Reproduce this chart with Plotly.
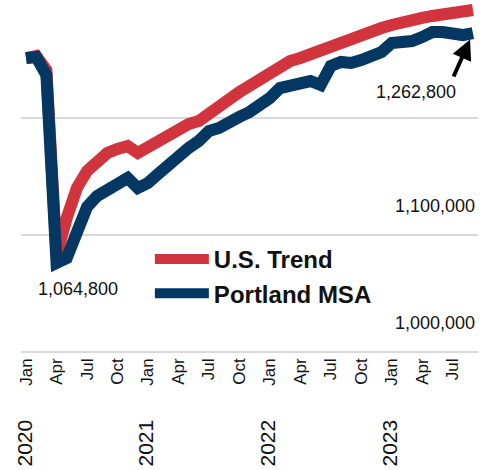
import plotly.graph_objects as go

# Monthly categories Jan 2020 .. Sep 2023
month_names = ["Jan", "Feb", "Mar", "Apr", "May", "Jun", "Jul", "Aug", "Sep", "Oct", "Nov", "Dec"]
months = [f"{m} {y}" for y in range(2020, 2024) for m in month_names][:45]

us_trend = [1251000, 1253000, 1241000, 1082900, 1114500, 1140200, 1154700, 1164100, 1170100,
            1173500, 1176100, 1170100, 1175200, 1180300, 1185500, 1188900, 1194900, 1197400,
            1204300, 1210300, 1216200, 1222200, 1227400, 1233300, 1239300, 1245300, 1248700,
            1251300, 1254700, 1258100, 1262400, 1265000, 1268400, 1270900, 1274400, 1276900,
            1279500, 1282100, 1283800, 1285500, 1287200, 1288000, 1288900, 1290600, 1292300]

portland = [1251300, 1252100, 1236800, 1076100, 1080300, 1106000, 1123900, 1133300, 1139300,
            1144400, 1148700, 1140200, 1144400, 1152100, 1160700, 1168400, 1174400, 1180300,
            1188900, 1191500, 1197400, 1200900, 1205100, 1210300, 1217100, 1225600, 1228200,
            1229900, 1231600, 1228200, 1244400, 1247900, 1247000, 1249600, 1252100, 1256400,
            1264100, 1264100, 1265800, 1269200, 1273500, 1273500, 1270900, 1270900, 1272600]

y_grid_vals = [1000000, 1100000, 1200000, 1300000]
y_label_vals = [1000000, 1100000]
y_label_text = ["1,000,000", "1,100,000"]

x_tick_vals = months[::3]
x_tick_text = []
for m in x_tick_vals:
    mon, yr = m.split()
    if mon == "Jan":
        x_tick_text.append(f"<span style='font-size:21px'>{yr}</span>\u2003\u2002\u2002{mon}")
    else:
        x_tick_text.append(mon)

trough_label = "1,064,800"
end_label = "1,262,800"

RED = "#d1343c"
BLUE = "#043863"
FONT = "Liberation Sans, Arial, sans-serif"

fig = go.Figure()
fig.add_trace(go.Scatter(x=months, y=us_trend, mode="lines", name="U.S. Trend",
                         line=dict(color=RED, width=12), legendgroup="a"))
fig.add_trace(go.Scatter(x=months, y=portland, mode="lines", name="Portland MSA",
                         line=dict(color=BLUE, width=12), legendgroup="b"))

# value-axis labels (drawn above their gridlines, inside the plot on the right)
for v, t in zip(y_label_vals, y_label_text):
    fig.add_annotation(xref="paper", x=1, y=v, text=t, showarrow=False,
                       xanchor="right", yanchor="middle", xshift=-1, yshift=29,
                       font=dict(size=18, color="#111", family=FONT))

fig.add_annotation(x=months[3], y=portland[3], text=trough_label, showarrow=False,
                   xshift=21, yshift=-26, font=dict(size=18, color="#111", family=FONT))
fig.add_annotation(x=months[-1], y=portland[-1], text=end_label, showarrow=False,
                   xshift=-57, yshift=-59, font=dict(size=18, color="#111", family=FONT))
fig.add_annotation(x=months[-1], y=portland[-1], text="", showarrow=True,
                   ax=-20, ay=45, arrowhead=2, arrowsize=1, arrowwidth=4,
                   arrowcolor="#000", standoff=7)

fig.update_layout(
    width=490, height=470,
    margin=dict(l=21, r=12, t=0, b=116),
    paper_bgcolor="white", plot_bgcolor="white",
    font=dict(family=FONT, color="#111"),
    showlegend=True,
    legend=dict(x=0.282, y=0.331, xanchor="left", yanchor="top",
                bgcolor="rgba(0,0,0,0)",
                font=dict(size=24, color="#111", family=FONT, weight="bold"),
                itemwidth=54, traceorder="grouped", tracegroupgap=0),
    xaxis=dict(type="category", range=[-0.5, 44.5], tickvals=x_tick_vals, ticktext=x_tick_text,
               tickangle=-90, tickfont=dict(size=17, color="#111", family=FONT),
               ticklabeloverflow="allow",
               showgrid=False, zeroline=False, showline=False, ticks="", automargin=False),
    yaxis=dict(range=[998300, 1300850], tickvals=y_grid_vals, showticklabels=False,
               showgrid=True, gridcolor="#d9d9d9", gridwidth=2, zeroline=False,
               showline=False, ticks="", automargin=False),
)

fig.write_html("out.html", config={"displayModeBar": False},
               post_script="document.body.style.margin='0';document.body.style.overflow='hidden';")
